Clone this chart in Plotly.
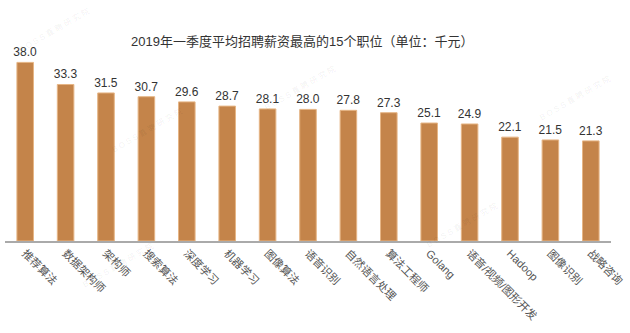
import plotly.graph_objects as go

# Top 15 positions by average offered salary, Q1 2019 (unit: thousand CNY)
positions = ["推荐算法", "数据架构师", "架构师", "搜索算法", "深度学习", "机器学习", "图像算法",
             "语音识别", "自然语言处理", "算法工程师", "Golang", "语音/视频/图形开发",
             "Hadoop", "图像识别", "战略咨询"]
salaries = [38.0, 33.3, 31.5, 30.7, 29.6, 28.7, 28.1, 28.0, 27.8, 27.3, 25.1, 24.9, 22.1, 21.5, 21.3]
title_text = "2019年一季度平均招聘薪资最高的15个职位（单位：千元）"
watermark = "B O S S 直 聘 研 究 院"

FONT = "Liberation Sans, Noto Sans CJK SC"

W, H = 630, 333
ML, MR, MT, MB = 5, 8, 53, 92


def px_to_paper(x, y):
    """Convert pixel coordinates on the page to paper coordinates."""
    return (x - ML) / (W - ML - MR), (H - MB - y) / (H - MT - MB)


fig = go.Figure(go.Bar(
    x=positions,
    y=salaries,
    marker=dict(color="#C4844A", line=dict(color="#E6B585", width=1)),
    text=[f"{v:.1f}" for v in salaries],
    textposition="outside",
    constraintext="none",
    textfont=dict(family=FONT, size=12, color="#333333"),
    cliponaxis=False,
))

annotations = []
tx, ty = px_to_paper(307, 42)
annotations.append(dict(
    text=title_text, x=tx, y=ty, xref="paper", yref="paper",
    xanchor="center", yanchor="middle", showarrow=False,
    font=dict(family=FONT, size=13, color="#333333"),
))

# faint diagonal watermarks
for wx, wy in [(305, 88), (585, 98), (120, 265), (470, 225), (55, 30), (150, 130)]:
    px, py = px_to_paper(wx, wy)
    annotations.append(dict(
        text=watermark, x=px, y=py, xref="paper", yref="paper",
        xanchor="center", yanchor="middle", showarrow=False, textangle=-30,
        font=dict(family=FONT, size=8, color="rgba(0,0,0,0.07)"),
    ))

fig.update_layout(
    width=W, height=H,
    margin=dict(l=ML, r=MR, t=MT, b=MB),
    paper_bgcolor="white", plot_bgcolor="white",
    bargap=0.59,
    showlegend=False,
    font=dict(family=FONT),
    annotations=annotations,
)

fig.update_xaxes(
    tickangle=45,
    tickfont=dict(family=FONT, size=11, color="#555555"),
    showline=True, linecolor="#AAAAAA", linewidth=1.5,
    ticks="", showgrid=False,
)
fig.update_yaxes(range=[0, 40], visible=False, showgrid=False)

fig.write_html("out.html")
